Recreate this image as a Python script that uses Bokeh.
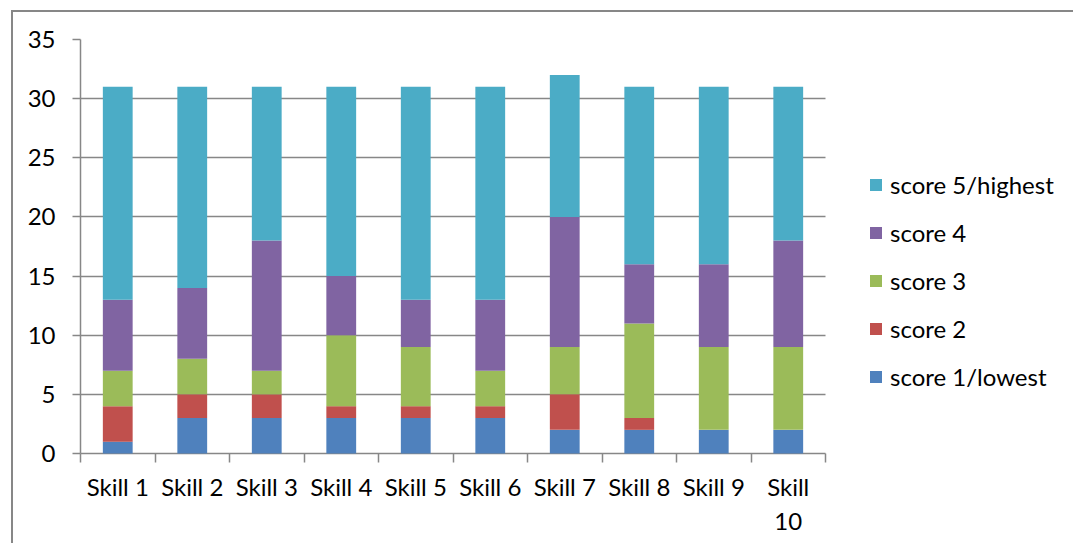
from bokeh.plotting import figure
from bokeh.models import (ColumnDataSource, FixedTicker, Legend, LegendItem,
                          Range1d)
from bokeh.embed import file_html
from bokeh.resources import INLINE

# Skill ratings: number of respondents per score, stacked per skill
categories = ["Skill 1", "Skill 2", "Skill 3", "Skill 4", "Skill 5",
              "Skill 6", "Skill 7", "Skill 8", "Skill 9", "Skill 10"]
tick_labels = ["Skill 1", "Skill 2", "Skill 3", "Skill 4", "Skill 5",
               "Skill 6", "Skill 7", "Skill 8", "Skill 9", "Skill\n10"]
score_1 = [1, 3, 3, 3, 3, 3, 2, 2, 2, 2]
score_2 = [3, 2, 2, 1, 1, 1, 3, 1, 0, 0]
score_3 = [3, 3, 2, 6, 5, 3, 4, 8, 7, 7]
score_4 = [6, 6, 11, 5, 4, 6, 11, 5, 7, 9]
score_5 = [18, 17, 13, 16, 18, 18, 12, 15, 15, 13]
series_names = ["score 1/lowest", "score 2", "score 3", "score 4", "score 5/highest"]
colors = ["#4F81BD", "#C0504D", "#9BBB59", "#8064A2", "#4BACC6"]
y_ticks = [0, 5, 10, 15, 20, 25, 30, 35]

FONT = "Lato"
FONT_SIZE = "24px"
GRAY = "#878787"

# canvas layout (pixels): the plotting frame runs to the right edge so the
# legend can sit beside the bars; bars use only the left part of it
CANVAS_W, CANVAS_H = 1062, 533
BORDER_L, BORDER_T, BORDER_B = 67, 27, 92
BAR_AREA_W = 745
frame_w = CANVAS_W - BORDER_L
n = len(categories)

keys = ["s1", "s2", "s3", "s4", "s5"]
centers = [i + 0.5 for i in range(n)]
source = ColumnDataSource(dict(x=centers, s1=score_1, s2=score_2, s3=score_3,
                               s4=score_4, s5=score_5))

p = figure(width=CANVAS_W, height=CANVAS_H,
           x_range=Range1d(0, n * frame_w / BAR_AREA_W), y_range=Range1d(0, 35),
           output_backend="svg", toolbar_location=None,
           min_border_left=BORDER_L, min_border_right=0,
           min_border_top=BORDER_T, min_border_bottom=BORDER_B)
p.margin = (10, 0, 0, 11)
p.styles = {"border-left": f"2px solid {GRAY}", "border-top": f"2px solid {GRAY}"}
p.outline_line_color = None
p.background_fill_color = "white"
p.border_fill_color = "white"

bars = p.vbar_stack(keys, x="x", width=0.4, color=colors, source=source,
                    line_color=None, level="overlay")

# y axis
p.yaxis.ticker = FixedTicker(ticks=y_ticks)
p.yaxis.axis_line_color = GRAY
p.yaxis.axis_line_width = 1.5
p.yaxis.major_tick_line_color = GRAY
p.yaxis.major_tick_line_width = 1.5
p.yaxis.major_tick_out = 8
p.yaxis.major_tick_in = 0
p.yaxis.minor_tick_line_color = None
p.yaxis.major_label_standoff = 17
p.yaxis.major_label_text_font = FONT
p.yaxis.major_label_text_font_size = FONT_SIZE
p.yaxis.major_label_text_color = "black"

# x axis: labels at the bar centres, tick marks between the categories
p.xaxis.bounds = (0, n)
p.xaxis.ticker = FixedTicker(ticks=centers, minor_ticks=list(range(n + 1)))
p.xaxis.major_label_overrides = {c: lab for c, lab in zip(centers, tick_labels)}
p.xaxis.axis_line_color = GRAY
p.xaxis.axis_line_width = 1.5
p.xaxis.major_tick_line_color = None
p.xaxis.minor_tick_line_color = GRAY
p.xaxis.minor_tick_line_width = 1.5
p.xaxis.minor_tick_out = 9
p.xaxis.minor_tick_in = 0
p.xaxis.major_tick_out = 9
p.xaxis.major_label_standoff = 9
p.xaxis.major_label_text_font = FONT
p.xaxis.major_label_text_font_size = FONT_SIZE
p.xaxis.major_label_text_color = "black"

p.xgrid.visible = False
p.ygrid.ticker = FixedTicker(ticks=y_ticks)
p.ygrid.cross_bounds = (0, n)
p.ygrid.grid_line_color = GRAY
p.ygrid.grid_line_width = 1.5

# legend, highest score on top
items = [LegendItem(label=name, renderers=[r])
         for name, r in zip(series_names[::-1], bars[::-1])]
legend = Legend(items=items, location=(788, 62), padding=0, margin=0,
                border_line_color=None, background_fill_alpha=0,
                glyph_width=15, glyph_height=15, label_height=20,
                spacing=19, label_standoff=7,
                label_text_font=FONT, label_text_font_size=FONT_SIZE,
                label_text_color="black")
p.add_layout(legend, "center")

open("out.html", "w").write(file_html(p, INLINE))
